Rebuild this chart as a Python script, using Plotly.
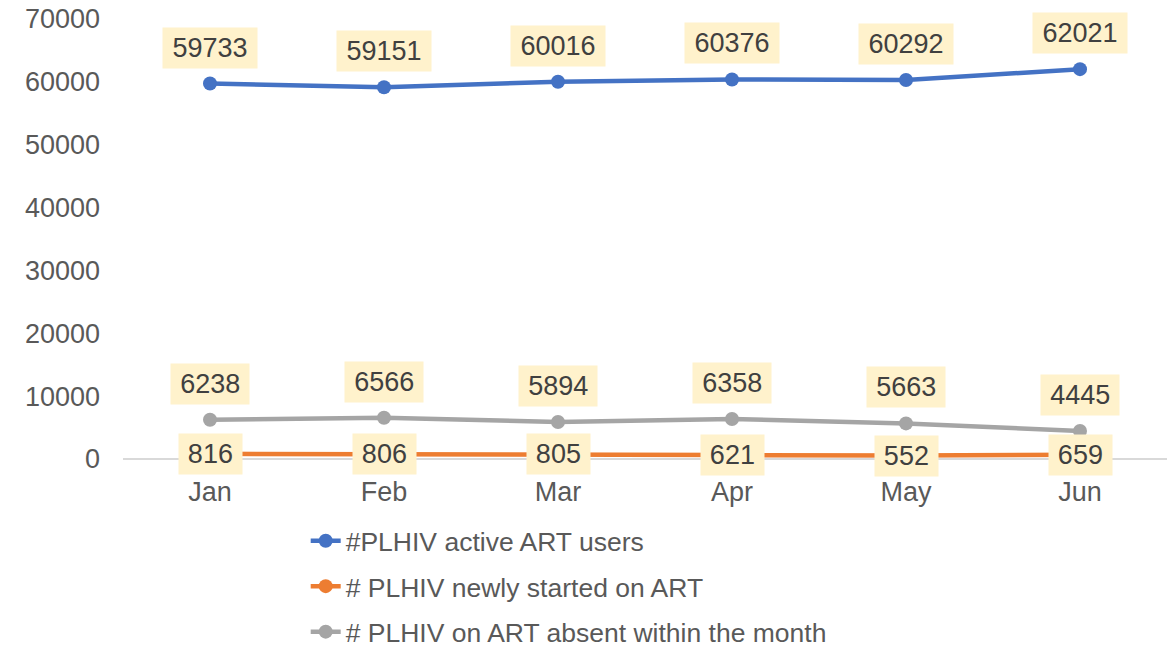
import plotly.graph_objects as go

months = ["Jan", "Feb", "Mar", "Apr", "May", "Jun"]
active_users = [59733, 59151, 60016, 60376, 60292, 62021]
newly_started = [816, 806, 805, 621, 552, 659]
absent = [6238, 6566, 5894, 6358, 5663, 4445]

series = [
    ("#PLHIV active ART users", active_users, "#4472C4", 36),
    ("# PLHIV newly started on ART", newly_started, "#ED7D31", 0),
    ("# PLHIV on ART absent within the month", absent, "#A5A5A5", 36),
]

FONT = "Liberation Sans, Arial, sans-serif"
fig = go.Figure()
annotations = []
for i, (name, vals, color, shift) in enumerate(series):
    fig.add_trace(go.Scatter(
        x=months, y=vals, name=name, mode="lines+markers",
        line=dict(color=color, width=4.5),
        marker=dict(color=color, size=14),
        legendgroup=f"g{i}",
    ))
    for m, v in zip(months, vals):
        txt = str(v)
        annotations.append(dict(
            x=m, y=v, xref="x", yref="y", text=txt, showarrow=False,
            yshift=shift, bgcolor="#FFF2CC", borderpad=6,
            width=15.6 * len(txt) + 4, height=28,
            font=dict(family=FONT, size=27, color="#404040"),
        ))

H = 660
fig.update_layout(
    width=1170, height=H,
    margin=dict(l=123, r=3, t=19, b=H - 459, autoexpand=False),
    paper_bgcolor="white", plot_bgcolor="white",
    font=dict(family=FONT, size=27, color="#595959"),
    showlegend=True,
    legend=dict(
        orientation="v", x=0.175, xanchor="left",
        yref="container", y=1 - 517 / H, yanchor="top",
        font=dict(family=FONT, size=26.5, color="#595959"),
        tracegroupgap=8, traceorder="grouped",
        bgcolor="rgba(0,0,0,0)",
    ),
    annotations=annotations,
    xaxis=dict(
        showgrid=False, showline=False, zeroline=False, automargin=False,
        ticks="", tickfont=dict(size=27, color="#595959"),
        range=[-0.5, 5.5], ticklabelstandoff=14,
    ),
    yaxis=dict(
        range=[0, 70000], dtick=10000, tickformat="d", showgrid=False,
        zeroline=True, zerolinecolor="#D9D9D9", zerolinewidth=2,
        showline=False, ticks="", tickfont=dict(size=27, color="#595959"),
        ticklabelstandoff=22, automargin=False, ticklabeloverflow="allow",
    ),
)

fig.write_html("out.html", config={"displayModeBar": False},
               post_script="document.body.style.margin='0';")
